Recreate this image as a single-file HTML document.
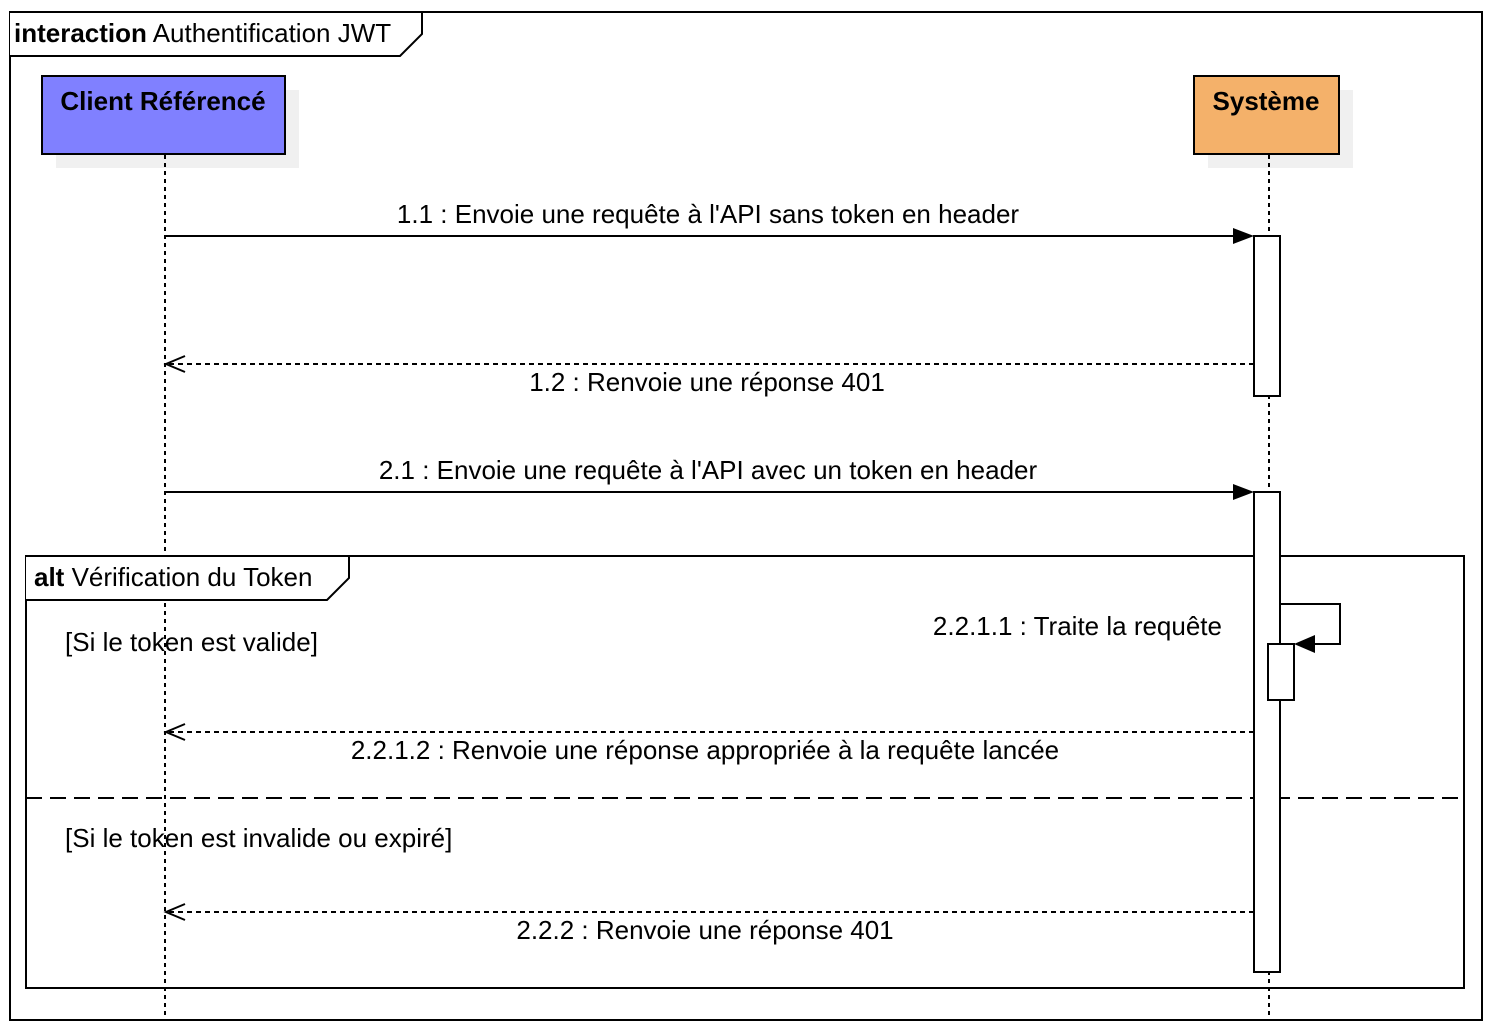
<!DOCTYPE html>
<html><head><meta charset="utf-8"><style>body{margin:0;background:#fff}svg{display:block}text{font-family:"Liberation Sans",Arial,sans-serif;font-size:26px;fill:#000}</style></head>
<body>
<svg width="1494" height="1030" viewBox="0 0 1494 1030" xmlns="http://www.w3.org/2000/svg">
<rect x="0" y="0" width="1494" height="1030" fill="#fff"/>
<rect x="10" y="12" width="1472" height="1008" fill="none" stroke="#000" stroke-width="2"/>
<path d="M10,12 H422 V34 L400,56 H10" fill="#fff" stroke="#000" stroke-width="2"/>
<text x="14" y="42"><tspan font-weight="bold">interaction</tspan> Authentification JWT</text>

<rect x="56" y="90" width="243" height="78" fill="#f0f0f0"/>
<rect x="42" y="76" width="243" height="78" fill="#8080ff" stroke="#000" stroke-width="2"/>
<text x="163" y="110" text-anchor="middle" font-weight="bold">Client Référencé</text>
<rect x="1208" y="90" width="145" height="78" fill="#f0f0f0"/>
<rect x="1194" y="76" width="145" height="78" fill="#f4b16a" stroke="#000" stroke-width="2"/>
<text x="1266" y="110" text-anchor="middle" font-weight="bold">Système</text>

<g stroke="#000" stroke-width="2" stroke-dasharray="4,4">
<line x1="165" y1="155" x2="165" y2="1015"/>
<line x1="1269" y1="155" x2="1269" y2="1015"/>
</g>

<rect x="26" y="556" width="1438" height="432" fill="none" stroke="#000" stroke-width="2"/>
<path d="M26,556 H349 V578 L327,600 H26" fill="#fff" stroke="#000" stroke-width="2"/>
<text x="34" y="586"><tspan font-weight="bold">alt</tspan>  Vérification du Token</text>
<line x1="26" y1="798" x2="1464" y2="798" stroke="#000" stroke-width="2" stroke-dasharray="16,8"/>
<text x="65" y="651">[Si le token est valide]</text>
<text x="65" y="847">[Si le token est invalide ou expiré]</text>

<rect x="1254" y="236" width="26" height="160" fill="#fff" stroke="#000" stroke-width="2"/>
<rect x="1254" y="492" width="26" height="480" fill="#fff" stroke="#000" stroke-width="2"/>
<rect x="1268" y="644" width="26" height="56" fill="#fff" stroke="#000" stroke-width="2"/>

<g stroke="#000" stroke-width="2" fill="none">
<line x1="165" y1="236" x2="1236" y2="236"/>
<line x1="165" y1="492" x2="1236" y2="492"/>
<g stroke-dasharray="5,4">
<line x1="1254" y1="364" x2="167" y2="364"/>
<line x1="1254" y1="732" x2="167" y2="732"/>
<line x1="1254" y1="912" x2="167" y2="912"/>
</g>
<path d="M185,356 L166,364 L185,372"/>
<path d="M185,724 L166,732 L185,740"/>
<path d="M185,904 L166,912 L185,920"/>
<path d="M1280,604 H1340 V644 H1310"/>
</g>
<path d="M1233,228 L1254,236 L1233,244Z" fill="#000"/>
<path d="M1233,484 L1254,492 L1233,500Z" fill="#000"/>
<path d="M1315,635 L1294,644 L1315,653Z" fill="#000"/>

<text x="708" y="223" text-anchor="middle">1.1 : Envoie une requête à l'API sans token en header</text>
<text x="707" y="391" text-anchor="middle">1.2 : Renvoie une réponse 401</text>
<text x="708" y="479" text-anchor="middle">2.1 : Envoie une requête à l'API avec un token en header</text>
<text x="1222" y="635" text-anchor="end">2.2.1.1 : Traite la requête</text>
<text x="705" y="759" text-anchor="middle">2.2.1.2 : Renvoie une réponse appropriée à la requête lancée</text>
<text x="705" y="939" text-anchor="middle">2.2.2 : Renvoie une réponse 401</text>
</svg>
</body></html>
